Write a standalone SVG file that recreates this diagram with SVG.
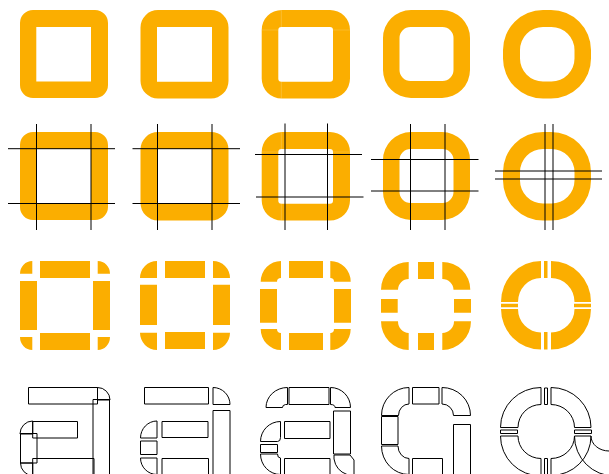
<svg xmlns="http://www.w3.org/2000/svg" width="609" height="474" viewBox="0 0 609 474">
<style>
.f{fill:#fbae00;fill-rule:evenodd;stroke:none}
.s{fill:#fff;fill-opacity:.3;stroke:none}
.l{fill:none;stroke:#000;stroke-width:1}
.o{fill:none;stroke:#000;stroke-width:1;stroke-linejoin:miter}
</style>
<defs>
<path id="r1" class="f" d="M33 10H95A13 13 0 0 1 108 23V85A13 13 0 0 1 95 98H33A13 13 0 0 1 20 85V23A13 13 0 0 1 33 10ZM36.300 27V81.400H91V27Z"/>
<path id="r2" class="f" d="M158 10H211A17.500 17.500 0 0 1 228.500 27.500V81A17.500 17.500 0 0 1 211 98.500H158A17.500 17.500 0 0 1 140.500 81V27.500A17.500 17.500 0 0 1 158 10ZM157 27V81.700H212V27Z"/>
<path id="r3" class="f" d="M281.700 10H330A20 20 0 0 1 350 30V78.500A20 20 0 0 1 330 98.500H281.700A20 20 0 0 1 261.700 78.500V30A20 20 0 0 1 281.700 10ZM281.300 27A3 3 0 0 0 278.300 30V78.700A3 3 0 0 0 281.300 81.700H330A3 3 0 0 0 333 78.700V30A3 3 0 0 0 330 27Z"/>
<path id="r4" class="f" d="M411 10H442A28 28 0 0 1 470 38V70A28 28 0 0 1 442 98H411A28 28 0 0 1 383 70V38A28 28 0 0 1 411 10ZM410.500 27A11 11 0 0 0 399.500 38V70A11 11 0 0 0 410.500 81H442.500A11 11 0 0 0 453.500 70V38A11 11 0 0 0 442.500 27Z"/>
<path id="r5" class="f" d="M543 10H551A40 40 0 0 1 591 50V58.500A40 40 0 0 1 551 98.500H543A40 40 0 0 1 503 58.500V50A40 40 0 0 1 543 10ZM543 27A23 23 0 0 0 520 50V58.500A23 23 0 0 0 543 81.500H551.500A23 23 0 0 0 574.500 58.500V50A23 23 0 0 0 551.500 27Z"/>
<path id="seam" class="s" d="M261.700 29.700H278.300V30.300H261.700ZM333 29.700H350V30.300H333ZM280.900 10H281.500V27H280.900ZM280.900 81.700H281.500V98.500H280.900Z"/>
</defs>

<g id="row1">
<g id="ring-1-1"><use href="#r1"/></g>
<g id="ring-1-2"><use href="#r2"/></g>
<g id="ring-1-3"><use href="#r3"/><use href="#seam"/></g>
<g id="ring-1-4"><use href="#r4"/></g>
<g id="ring-1-5"><use href="#r5"/></g>
</g>

<g id="row2">
<g id="ring-2-1"><use href="#r1" y="122"/><path class="l" d="M36.500 124V230M91 124V230M8 148.700H115M8 203.500H115"/></g>
<g id="ring-2-2"><use href="#r2" y="122"/><path class="l" d="M157.500 124V230M212 124V230M132.500 148.700H240M132.500 203.500H240"/></g>
<g id="ring-2-3"><use href="#r3" y="122"/><use href="#seam" y="122"/><path class="l" d="M285 123.500V230M327.500 123.500V230M255 154.500H362M256 197H363.500"/></g>
<g id="ring-2-4"><use href="#r4" y="122"/><path class="l" d="M410.500 124V230M445 124V230M371 159.500H478.500M371 191H478.500"/></g>
<g id="ring-2-5"><use href="#r5" y="122"/><path class="l" d="M545 124V230M553 124V230M495 171H602M495 179H602"/></g>
</g>

<g id="row3">
<g id="ring-3-1"><path class="f" d="M20 273.700A12.300 12.700 0 0 1 32.300 261V273.700ZM40 261H90V278H40ZM97.700 261A12.300 12.700 0 0 1 110 273.700H97.700ZM20 281H37V330H20ZM93 281H110V330H93ZM20 337H32.300V350A12.300 13 0 0 1 20 337ZM40 333H90V350H40ZM97.700 337H110A12.300 13 0 0 1 97.700 350Z"/></g>
<g id="ring-3-2"><path class="f" d="M140 278A17 17 0 0 1 157 261V278ZM165 261H205V278H165ZM213 261A17 17 0 0 1 230 278H213ZM140 284.700H157V325H140ZM213 284.700H230V325H213ZM140 332.700H157V350A17 17.300 0 0 1 140 332.700ZM165 332H205V349H165ZM213 332.700H230A17 17.300 0 0 1 213 350Z"/></g>
<g id="ring-3-3"><path class="f" d="M260.700 281.700A20.300 20.700 0 0 1 281 261V278A4 3.700 0 0 0 277 281.700ZM289 261H323V278H289ZM330.300 261A20.400 20.700 0 0 1 350.700 281.700H334A3.700 3.700 0 0 0 330.300 278ZM260 289H277V322.700H260ZM334 289H351V322.700H334ZM260.700 329H277A4 4 0 0 0 281 333V350A20.300 21 0 0 1 260.700 329ZM289 333H323V350H289ZM334 329H350.700A20.400 21 0 0 1 330.300 350V333A3.700 4 0 0 0 334 329Z"/></g>
<g id="ring-3-4"><path class="f" d="M381 289.700A27.700 27.700 0 0 1 408.700 262V279A10.700 10.700 0 0 0 398 289.700ZM418 262H434V279H418ZM442.300 262A28 27.700 0 0 1 470.300 289.700H453.500A11.200 10.700 0 0 0 442.300 279ZM381 299H397.700V312.700H381ZM454 299H471V312.700H454ZM381 321.300H398A10.700 11.700 0 0 0 408.700 333V350A27.700 28.700 0 0 1 381 321.300ZM418 333H434V350H418ZM454 321.300H471A28.700 28.700 0 0 1 442.300 350V333A11.700 11.700 0 0 0 454 321.300Z"/></g>
<g id="ring-3-5"><path class="f" d="M501 302A40 41 0 0 1 541 261V278A23 24 0 0 0 518 302ZM544 261H547.500V278H544ZM551 261A40 41 0 0 1 591 302H574.500A23.500 24 0 0 0 551 278ZM501 303.700H518V307.300H501ZM574 303.700H591V307.300H574ZM501 309H518A23 23.500 0 0 0 541 332.500V349.500A40 40.500 0 0 1 501 309ZM544 332H547.500V349.500H544ZM574.500 309H591A40 40.500 0 0 1 551 349.500V332.500A23.500 23.500 0 0 0 574.500 309Z"/></g>
</g>

<g id="row4">
<g id="ring-4-1"><path class="o" d="M28.500 387.500H97.500V404H28.500ZM97.500 387.500A12.500 12.500 0 0 1 110 400H97.500ZM93 399.500H109.500V480H93ZM20 434A12.700 13 0 0 1 32.700 421V434ZM32.700 421.500H77.500V438H32.700ZM20.500 433.500H37V463H20.500ZM20.500 463H32.700V475.500A12.200 12.500 0 0 1 20.500 463ZM32.700 458.500H94V480H32.700Z"/></g>
<g id="ring-4-2"><path class="o" d="M144.500 387.500H208.500V404H144.500ZM213 387.500A17 17 0 0 1 230 404.500H213ZM213 410.500H230V480H213ZM140.500 438A16.500 17 0 0 1 157 421V438ZM162 421.500H208V437.500H162ZM140.500 441H157V454.500H140.500ZM140.500 458H157V474.500A16.500 16.500 0 0 1 140.500 458ZM162 458.500H208.500V480H162Z"/></g>
<g id="ring-4-3"><path class="o" d="M266 407.500A21.500 20 0 0 1 287.500 387.500V404.500H285.500A4 3 0 0 0 282.500 407.500ZM289 387.500H329V404.500H289ZM330.500 387.500A20 20 0 0 1 350.500 407.500H335A4.500 3 0 0 0 330.500 404.500ZM333.500 411H350.500V454H333.500ZM334 455H350L354 460V480M334 455V459A20 20 0 0 0 347 474.500M284.500 421.500H330V438.500H284.500ZM260.500 441.500A20 20 0 0 1 280.500 421.500V437.500A3 4 0 0 1 277.500 441.500ZM260.500 444.500H277.500V452.500H260.500ZM260.500 454H277.500A3 4 0 0 0 280.500 458V474.500A20 20.500 0 0 1 260.500 454ZM284.500 458.500H330V480H284.500Z"/></g>
<g id="ring-4-4"><path class="o" d="M381.500 415.500A27.500 28 0 0 1 409 387.500V404A10.500 11.500 0 0 0 398.500 415.500ZM412.500 387.500H439V404H412.500ZM442 387.500A28.500 28 0 0 1 470.500 415.500H453.500A11.500 11.500 0 0 0 442 404ZM453.500 424.500H470.500V480H453.500ZM381.500 416.500H398V444.500H381.500ZM381.500 446H398A11 12.500 0 0 0 409 458.500V474.500A27.500 28.500 0 0 1 381.500 446ZM412.500 458.500H442.500V480H412.500Z"/></g>
<g id="ring-4-5"><path class="o" d="M500.500 427.500A40.500 40 0 0 1 541 387.500V404.500A23 23 0 0 0 518 427.500ZM544.500 388H547.500V404.500H544.500ZM551 387.500A40 40 0 0 1 591 427.500H574.500A23.500 23 0 0 0 551 404.500ZM500.500 430H517.500V433.500H500.500ZM574.500 430H591.500V433.500H574.500ZM500.500 436H518A23 22.500 0 0 0 541 458.500V476A40.500 40 0 0 1 500.500 436ZM544.500 458.500H547.500V480H544.500ZM574.500 436H591A40 39.500 0 0 1 551 475.500V458.500A23.500 22.500 0 0 0 574.500 436ZM574.500 436A40 40 0 0 0 614.500 476M591 436A18 15 0 0 0 609 451"/></g>
</g>
</svg>
